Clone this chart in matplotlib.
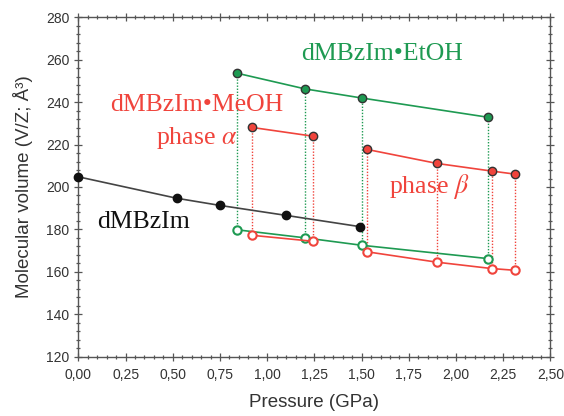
import matplotlib
matplotlib.use("Agg")
import matplotlib.pyplot as plt
from matplotlib.ticker import MultipleLocator, FuncFormatter

# Data
bz_p = [0.0, 0.52, 0.75, 1.10, 1.49]
bz_v = [204.8, 194.7, 191.3, 186.6, 181.3]

et_p = [0.84, 1.20, 1.50, 2.17]
et_v_filled = [253.7, 246.3, 242.0, 232.9]
et_v_open = [179.8, 176.0, 172.5, 166.2]

me_alpha_p = [0.92, 1.24]
me_alpha_filled = [228.1, 224.0]
me_alpha_open = [177.2, 174.4]

me_beta_p = [1.53, 1.90, 2.19, 2.31]
me_beta_filled = [217.7, 211.1, 207.5, 206.1]
me_beta_open = [169.4, 164.5, 161.5, 160.7]

x_ticks = [0.0, 0.25, 0.5, 0.75, 1.0, 1.25, 1.5, 1.75, 2.0, 2.25, 2.5]
y_ticks = [120, 140, 160, 180, 200, 220, 240, 260, 280]

GREEN = "#1e9a52"
RED = "#f0443c"
AXC = "#555555"

fig = plt.figure(figsize=(5.64, 4.16), dpi=100)
ax = fig.add_axes([0.139, 0.143, 0.837, 0.815])

# Vertical dotted connectors
for p, vf, vo in zip(et_p, et_v_filled, et_v_open):
    ax.plot([p, p], [vo, vf], ls=(0, (1, 1.2)), color=GREEN, lw=1.0, zorder=1)
for ps, vfs, vos in ((me_alpha_p, me_alpha_filled, me_alpha_open),
                     (me_beta_p, me_beta_filled, me_beta_open)):
    for p, vf, vo in zip(ps, vfs, vos):
        ax.plot([p, p], [vo, vf], ls=(0, (1, 1.2)), color=RED, lw=1.0, zorder=1)

ms = 6
# dMBzIm
ax.plot(bz_p, bz_v, '-', color="#444444", lw=1.2, marker='o', ms=ms,
        mfc="#111111", mec="#111111", zorder=3, clip_on=False)
# EtOH
ax.plot(et_p, et_v_filled, '-', color=GREEN, lw=1.2, marker='o', ms=ms,
        mfc=GREEN, mec="#333333", mew=1.0, zorder=3)
ax.plot(et_p, et_v_open, '-', color=GREEN, lw=1.2, marker='o', ms=ms,
        mfc="white", mec=GREEN, mew=1.5, zorder=3)
# MeOH alpha / beta
for ps, vf, vo in ((me_alpha_p, me_alpha_filled, me_alpha_open),
                   (me_beta_p, me_beta_filled, me_beta_open)):
    ax.plot(ps, vf, '-', color=RED, lw=1.2, marker='o', ms=ms,
            mfc=RED, mec="#333333", mew=1.0, zorder=3)
    ax.plot(ps, vo, '-', color=RED, lw=1.2, marker='o', ms=ms,
            mfc="white", mec=RED, mew=1.5, zorder=3)

ax.set_xlim(0, 2.5)
ax.set_ylim(120, 280)
ax.set_xticks(x_ticks)
ax.set_yticks(y_ticks)
ax.xaxis.set_minor_locator(MultipleLocator(0.05))
ax.yaxis.set_minor_locator(MultipleLocator(4))
ax.xaxis.set_major_formatter(FuncFormatter(lambda v, _: f"{v:.2f}".replace('.', ',')))

for s in ax.spines.values():
    s.set_color(AXC)
    s.set_linewidth(1.0)

ax.tick_params(which='both', top=True, right=True, color=AXC, width=0.9,
               labelcolor="#333333", labelsize=10, labelfontfamily="Liberation Sans")
ax.tick_params(axis='x', which='major', direction='inout', length=6, pad=5)
ax.tick_params(axis='x', which='minor', direction='inout', length=3.5)
ax.tick_params(axis='y', which='major', direction='inout', length=6)
ax.tick_params(axis='y', which='minor', direction='inout', length=3.5)

ax.set_xlabel("Pressure (GPa)", fontsize=13.5, family="Liberation Sans", color="#333333", labelpad=9)
ax.set_ylabel("Molecular volume (V/Z; Å³)", fontsize=13.5, family="Liberation Sans", color="#333333", labelpad=9)

serif = "Liberation Serif"
fs = 18.5
ax.text(1.61, 262.7, "dMBzIm\u2022EtOH", color=GREEN, fontsize=fs, family=serif,
        ha='center', va='center')
ax.text(0.625, 238.6, "dMBzIm\u2022MeOH", color=RED, fontsize=fs, family=serif,
        ha='center', va='center')
ax.text(0.625, 222.9, r"phase $\alpha$", color=RED, fontsize=fs, family=serif,
        ha='center', va='center', math_fontfamily='stix')
ax.text(1.86, 200.0, r"phase $\beta$", color=RED, fontsize=fs, family=serif,
        ha='center', va='center', math_fontfamily='stix')
ax.text(0.343, 183.5, "dMBzIm", color="#111111", fontsize=fs, family=serif,
        ha='center', va='center')

fig.savefig("out.png", dpi=100)
